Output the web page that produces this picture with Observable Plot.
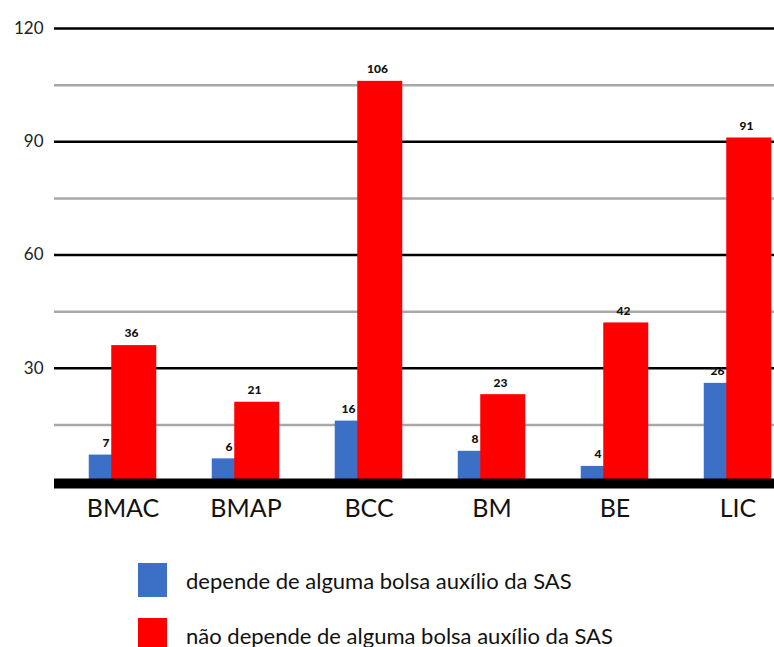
<!DOCTYPE html>
<html>
<head>
<meta charset="utf-8">
<script src="https://cdn.jsdelivr.net/npm/d3@7"></script>
<script src="https://cdn.jsdelivr.net/npm/@observablehq/plot@0.6"></script>
<style>
  html, body { margin: 0; padding: 0; background: #fff; overflow: hidden; }
  body { width: 774px; height: 647px; font-family: Lato, "Open Sans", sans-serif; }
  #legend { padding-left: 138px; margin-top: 28px; }
  .row { display: flex; align-items: center; height: 34px; margin-bottom: 21px; }
  .sw { width: 29px; height: 34px; margin-right: 19px; flex: none; }
  .lbl { font-size: 22px; color: #111; white-space: nowrap; }
</style>
</head>
<body>
<div id="chart"></div>
<div id="legend"></div>
<script>
const categories = ["BMAC", "BMAP", "BCC", "BM", "BE", "LIC"];
const dependeValues = [7, 6, 16, 8, 4, 26];
const naoDependeValues = [36, 21, 106, 23, 42, 91];
const seriesNames = ["depende de alguma bolsa auxílio da SAS", "não depende de alguma bolsa auxílio da SAS"];
const seriesColors = ["#3b70c6", "#ff0000"];
const yTickValues = [30, 60, 90, 120];
const yMinorGrid = [15, 45, 75, 105];

const blueRows = categories.map((c, i) => ({category: c, series: seriesNames[0], value: dependeValues[i]}));
const redRows = categories.map((c, i) => ({category: c, series: seriesNames[1], value: naoDependeValues[i]}));

const font = "Lato, 'Open Sans', sans-serif";

const chart = Plot.plot({
  width: 774,
  height: 535,
  marginTop: 28,
  marginBottom: 54,
  marginLeft: 54,
  marginRight: 0,
  style: {fontFamily: font, background: "#fff", overflow: "hidden"},
  x: {domain: categories, range: [59.75, 800.75], paddingInner: 0.6356, paddingOuter: 0.3178, label: null},
  y: {domain: [0, 120], label: null},
  marks: [
    Plot.ruleY(yMinorGrid, {stroke: "#a8a8a8", strokeWidth: 2.5}),
    Plot.ruleY(yTickValues, {stroke: "#000", strokeWidth: 2.5}),
    Plot.barY(blueRows, {x: "category", y: "value", fill: seriesColors[0], dx: -11.25}),
    Plot.barY(redRows, {x: "category", y: "value", fill: seriesColors[1], dx: 11.25}),
    Plot.ruleY([0], {stroke: "#000", strokeWidth: 10, dy: 2}),
    Plot.text(blueRows, {x: "category", y: "value", text: d => String(d.value), textAnchor: "end", dx: -13.5, dy: -12, fontWeight: 900, fontSize: 12, fill: "#111"}),
    Plot.text(redRows, {x: "category", y: "value", text: d => String(d.value), dx: 8.5, dy: -12, fontWeight: 900, fontSize: 12, fill: "#111"}),
    Plot.axisY({ticks: yTickValues, tickSize: 0, tickPadding: 11, fontSize: 17, fill: "#222", label: null}),
    Plot.axisX({tickSize: 0, tickPadding: 18, fontSize: 25, fill: "#111", label: null})
  ]
});
document.getElementById("chart").appendChild(chart);

const legend = document.getElementById("legend");
seriesNames.forEach((name, i) => {
  const row = document.createElement("div");
  row.className = "row";
  const sw = document.createElement("div");
  sw.className = "sw";
  sw.style.background = seriesColors[i];
  const lbl = document.createElement("span");
  lbl.className = "lbl";
  lbl.textContent = name;
  row.appendChild(sw);
  row.appendChild(lbl);
  legend.appendChild(row);
});
</script>
</body>
</html>
